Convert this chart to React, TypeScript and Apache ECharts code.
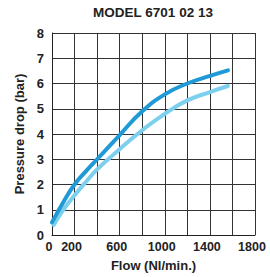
import React, { useEffect, useRef } from "react";
import * as echarts from "echarts";

const title = "MODEL 6701 02 13";
const xName = "Flow (Nl/min.)";
const yName = "Pressure drop (bar)";
const hiddenXLabels = [400, 800, 1200, 1600];

const darkFlow = [0, 100, 200, 300, 400, 600, 800, 1000, 1200, 1400, 1560];
const darkDrop = [0.5, 1.3, 2.0, 2.52, 3.0, 3.96, 4.9, 5.57, 6.0, 6.3, 6.52];
const lightFlow = [15, 100, 200, 300, 400, 600, 800, 1000, 1200, 1400, 1560];
const lightDrop = [0.4, 1.0, 1.57, 2.1, 2.6, 3.4, 4.15, 4.8, 5.33, 5.66, 5.9];

const font = "'Liberation Sans', Arial, sans-serif";

export default function App() {
  const ref = useRef<HTMLDivElement>(null);
  useEffect(() => {
    if (!ref.current) return;
    const chart = echarts.init(ref.current, null, { renderer: "svg" });
    chart.setOption({
      animation: false,
      title: {
        text: title,
        left: 153,
        textAlign: "center",
        top: 5,
        padding: 0,
        textStyle: { fontFamily: font, fontSize: 13.5, fontWeight: "bold", color: "#222" },
      },
      grid: { left: 52, right: 15, top: 33, bottom: 42 },
      xAxis: {
        type: "value",
        min: 0,
        max: 1800,
        interval: 200,
        name: xName,
        nameLocation: "middle",
        nameGap: 24,
        nameTextStyle: { fontFamily: font, fontSize: 13, fontWeight: "bold", color: "#222" },
        axisLine: { show: true, lineStyle: { color: "#222", width: 1 } },
        axisTick: { show: false },
        splitLine: { show: true, lineStyle: { color: "#333", width: 1 } },
        axisLabel: {
          fontFamily: font,
          fontSize: 12.5,
          fontWeight: "bold",
          color: "#222",
          margin: 5,
          padding: [0, 6, 0, 0],
          formatter: (v: number) => (hiddenXLabels.includes(v) ? "" : String(v)),
        },
      },
      yAxis: {
        type: "value",
        min: 0,
        max: 8,
        interval: 1,
        name: yName,
        nameLocation: "middle",
        nameGap: 22,
        nameTextStyle: { fontFamily: font, fontSize: 13, fontWeight: "bold", color: "#222" },
        axisLine: { show: true, lineStyle: { color: "#222", width: 1 } },
        axisTick: { show: false },
        splitLine: { show: true, lineStyle: { color: "#333", width: 1 } },
        axisLabel: { fontFamily: font, fontSize: 13, fontWeight: "bold", color: "#222", margin: 8 },
      },
      series: [
        {
          type: "line",
          smooth: true,
          showSymbol: false,
          data: lightFlow.map((x, i) => [x, lightDrop[i]]),
          lineStyle: { color: "#7dcfee", width: 4, cap: "round" },
        },
        {
          type: "line",
          smooth: true,
          showSymbol: false,
          data: darkFlow.map((x, i) => [x, darkDrop[i]]),
          lineStyle: { color: "#1f9ad6", width: 4, cap: "round" },
        },
      ],
    });
    return () => chart.dispose();
  }, []);
  return (
    <div
      ref={ref}
      style={{ position: "absolute", left: 0, top: 0, width: 270, height: 277 }}
    />
  );
}
